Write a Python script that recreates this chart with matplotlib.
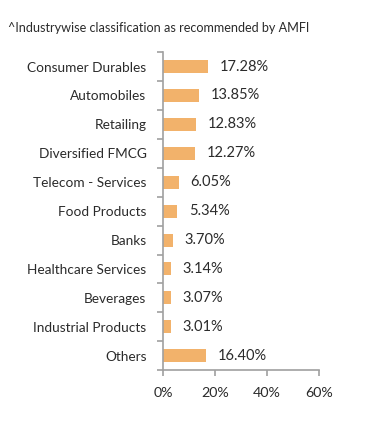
import matplotlib.pyplot as plt
import numpy as np

plt.rcParams['font.family'] = ['Lato', 'DejaVu Sans']

categories = ['Consumer Durables', 'Automobiles', 'Retailing', 'Diversified FMCG',
              'Telecom - Services', 'Food Products', 'Banks', 'Healthcare Services',
              'Beverages', 'Industrial Products', 'Others']
values = [17.28, 13.85, 12.83, 12.27, 6.05, 5.34, 3.70, 3.14, 3.07, 3.01, 16.40]
xticks = [0, 20, 40, 60]

bar_color = '#F2B26B'
axis_color = '#A0A0A0'
text_color = '#2b2b2b'

fig = plt.figure(figsize=(3.91, 4.34), dpi=100)
ax = fig.add_axes([0.417, 0.147, 0.399, 0.733])

y = np.arange(len(categories))
ax.barh(y, values, height=0.45, color=bar_color)
for yi, v in zip(y, values):
    ax.text(v + 4.5, yi, f'{v:.2f}%', va='center', ha='left',
            fontsize=10.5, color=text_color)

ax.set_xlim(0, 60)
ax.set_ylim(len(categories) - 0.5, -0.5)
ax.set_xticks(xticks)
ax.set_xticklabels([f'{t}%' for t in xticks], fontsize=10.3, color=text_color)

ax.set_yticks(y)
ax.set_yticklabels(categories, fontsize=9.8, color=text_color)
ax.tick_params(axis='y', which='major', length=0, pad=12)
ax.set_yticks(np.arange(-0.5, len(categories)), minor=True)
ax.tick_params(axis='y', which='minor', length=4, width=1.2, color=axis_color)
ax.tick_params(axis='x', length=4, width=1.2, color=axis_color, pad=8)

for s in ['top', 'right']:
    ax.spines[s].set_visible(False)
for s in ['left', 'bottom']:
    ax.spines[s].set_color(axis_color)
    ax.spines[s].set_linewidth(1.2)

fig.text(0.02, 0.935, '^Industrywise classification as recommended by AMFI',
         fontsize=9.1, color=text_color, va='center', ha='left')

fig.savefig('out.png', dpi=100)
